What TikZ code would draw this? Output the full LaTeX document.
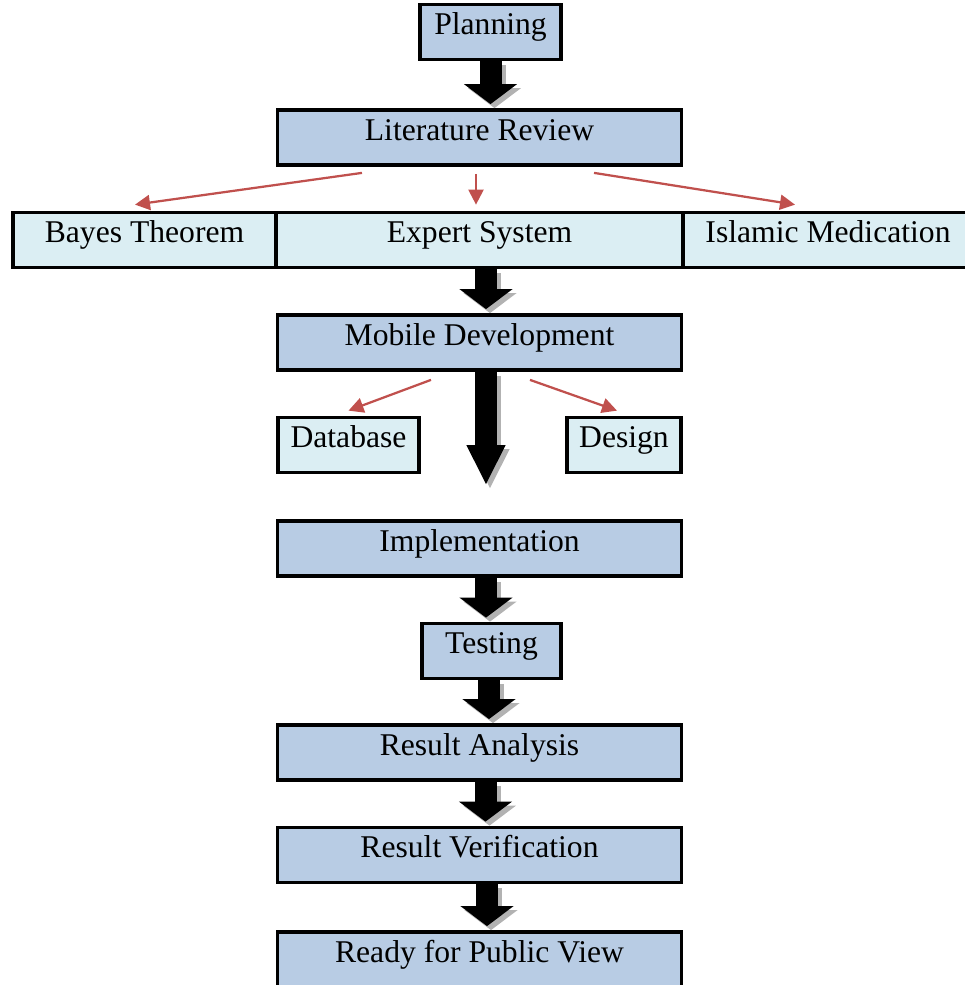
\documentclass[tikz,border=0pt]{standalone}
\usepackage{fontspec}
\setmainfont{Liberation Serif}
\usetikzlibrary{arrows.meta}

\definecolor{stageblue}{RGB}{184,204,228}
\definecolor{topiclight}{RGB}{219,238,243}
\definecolor{linkred}{RGB}{192,80,77}

\begin{document}
\begin{tikzpicture}[x=0.2mm, y=-0.2mm,
        stage/.style={draw, line width=0.75mm, fill=stageblue, inner sep=0pt,
            text height=6mm, text depth=5mm, font=\fontsize{18}{21}\selectfont},
        topic/.style={stage, fill=topiclight},
        blockarrow/.style={line width=4.4mm, -{Triangle[width=10.4mm, length=4mm]}, shorten >=0.8mm},
        blockshadow/.style={blockarrow, black!30, transform canvas={xshift=0.8mm, yshift=-0.8mm}},
        bigarrow/.style={line width=4.4mm, -{Triangle[width=7.2mm, length=8mm]}, shorten >=6.8mm},
        bigshadow/.style={bigarrow, black!30, transform canvas={xshift=0.8mm, yshift=-0.8mm}},
        redlink/.style={linkred, line width=0.45mm, -{Triangle[width=3mm, length=3mm]}}]
        \clip (0, 0) rectangle (965, 985);

        \node[stage, minimum width=28.2mm] (planning) at (490.5, 32) {Planning};
        \node[stage, minimum width=80.8mm] (litreview) at (479.5, 137.5) {Literature Review};
        \node[topic, minimum width=52.6mm] (bayes) at (144.5, 240) {Bayes Theorem};
        \node[topic, minimum width=81.4mm] (expert) at (479.5, 240) {Expert System};
        \node[topic, minimum width=58mm] (islamic) at (828, 240) {Islamic Medication};
        \node[stage, minimum width=80.8mm] (mobile) at (479.5, 342.5) {Mobile Development};
        \node[topic, minimum width=28.2mm] (database) at (348.5, 445) {Database};
        \node[topic, minimum width=22.8mm] (design) at (624, 445) {Design};
        \node[stage, minimum width=80.8mm] (implementation) at (479.5, 548.5) {Implementation};
        \node[stage, minimum width=27.8mm] (testing) at (491.5, 651) {Testing};
        \node[stage, minimum width=80.8mm] (analysis) at (479.5, 752.5) {Result Analysis};
        \node[stage, minimum width=80.8mm] (verification) at (479.5, 855) {Result Verification};
        \node[stage, minimum width=80.8mm] (ready) at (479.5, 959.5) {Ready for Public View};

        % main flow
        \draw[blockshadow] (planning.south) -- (planning.south |- litreview.north);
        \draw[blockarrow] (planning.south) -- (planning.south |- litreview.north);
        \draw[blockshadow] ([xshift=1.3mm]expert.south) -- ([xshift=1.3mm]mobile.north);
        \draw[blockarrow] ([xshift=1.3mm]expert.south) -- ([xshift=1.3mm]mobile.north);
        \draw[bigshadow] ([xshift=1.3mm]mobile.south) -- ([xshift=1.3mm]implementation.north);
        \draw[bigarrow] ([xshift=1.3mm]mobile.south) -- ([xshift=1.3mm]implementation.north);
        \draw[blockshadow] ([xshift=1.3mm]implementation.south) -- ([xshift=1.3mm]implementation.south |- testing.north);
        \draw[blockarrow] ([xshift=1.3mm]implementation.south) -- ([xshift=1.3mm]implementation.south |- testing.north);
        \draw[blockshadow] ([xshift=-0.5mm]testing.south) -- ([xshift=-0.5mm]testing.south |- analysis.north);
        \draw[blockarrow] ([xshift=-0.5mm]testing.south) -- ([xshift=-0.5mm]testing.south |- analysis.north);
        \draw[blockshadow] ([xshift=1.2mm]analysis.south) -- ([xshift=1.2mm]verification.north);
        \draw[blockarrow] ([xshift=1.2mm]analysis.south) -- ([xshift=1.2mm]verification.north);
        \draw[blockshadow] ([xshift=1.5mm]verification.south) -- ([xshift=1.5mm]ready.north);
        \draw[blockarrow] ([xshift=1.5mm]verification.south) -- ([xshift=1.5mm]ready.north);

        % branches
        \draw[redlink] ([xshift=-23.5mm, yshift=-1.2mm]litreview.south) -- ([xshift=-1.9mm, yshift=1.2mm]bayes.north);
        \draw[redlink] ([xshift=-0.7mm, yshift=-1.4mm]litreview.south) -- ([xshift=-0.7mm, yshift=1.2mm]expert.north);
        \draw[redlink] ([xshift=22.9mm, yshift=-1.2mm]litreview.south) -- ([xshift=-6.6mm, yshift=1.2mm]islamic.north);
        \draw[redlink] ([xshift=-9.7mm, yshift=-1.6mm]mobile.south) -- ([yshift=1mm]database.north);
        \draw[redlink] ([xshift=10.1mm, yshift=-1.6mm]mobile.south) -- ([xshift=-1.4mm, yshift=1mm]design.north);
    \end{tikzpicture}
\end{document}
